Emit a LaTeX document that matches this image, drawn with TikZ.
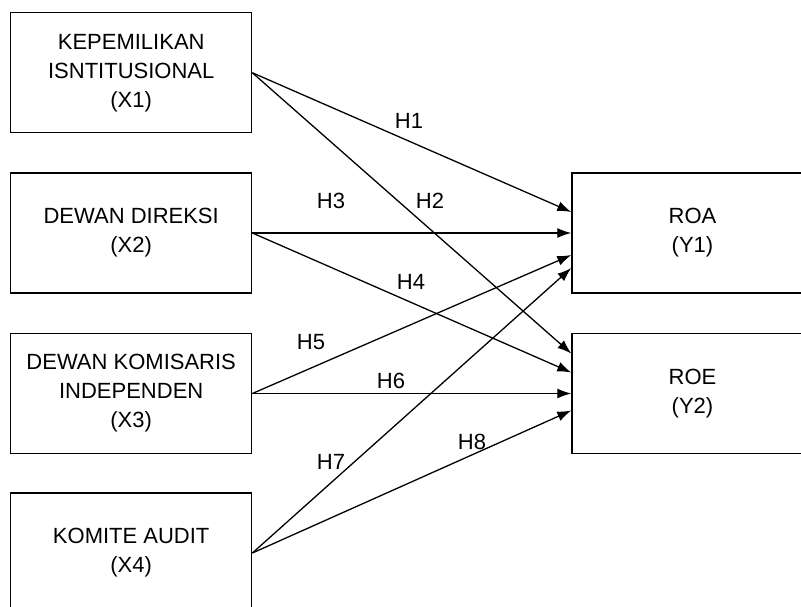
\documentclass[tikz,border=0pt]{standalone}
\usepackage{fontspec}
\setmainfont{Liberation Sans}
\usetikzlibrary{arrows.meta,calc}
\begin{document}
\begin{tikzpicture}[x=1pt,y=-1pt,
  box/.style={draw=black,line width=1.4pt,minimum width=241pt,minimum height=120pt,align=center,inner sep=0pt,
    font=\fontsize{22}{29}\selectfont},
  conn/.style={line width=1.3pt,-{Latex[length=14pt,width=10pt]}},
  lbl/.style={font=\fontsize{22}{26}\selectfont,inner sep=0pt}]
\clip (0,0) rectangle (801,607);
\fill[white] (0,0) rectangle (801,607);
\node[box] (X1) at (131.2,72.8) {KEPEMILIKAN\\ISNTITUSIONAL\\(X1)};
\node[box] (X2) at (131.2,233) {DEWAN DIREKSI\\(X2)};
\node[box] (X3) at (131.2,393.5) {DEWAN KOMISARIS\\INDEPENDEN\\(X3)};
\node[box] (X4) at (131.2,553) {KOMITE AUDIT\\(X4)};
\node[box] (Y1) at (692.5,233) {ROA\\(Y1)};
\node[box] (Y2) at (692.5,393.5) {ROE\\(Y2)};
\draw[conn] (X1.east) -- ($(Y1.west)+(0,-21)$);
\draw[conn] (X1.east) -- ($(Y2.west)+(0,-40)$);
\draw[conn] (X2.east) -- (Y1.west);
\draw[conn] (X2.east) -- ($(Y2.west)+(0,-21)$);
\draw[conn] (X3.east) -- ($(Y1.west)+(0,22)$);
\draw[conn] (X3.east) -- (Y2.west);
\draw[conn] (X4.east) -- ($(Y1.west)+(0,35)$);
\draw[conn] (X4.east) -- ($(Y2.west)+(0,17)$);
\node[lbl] (H1) at (409,121) {H1};
\node[lbl] (H2) at (430,201) {H2};
\node[lbl] (H3) at (331,201) {H3};
\node[lbl] (H4) at (411,282) {H4};
\node[lbl] (H5) at (311,342) {H5};
\node[lbl] (H6) at (391,381) {H6};
\node[lbl] (H7) at (331,462) {H7};
\node[lbl] (H8) at (472,442) {H8};
\end{tikzpicture}
\end{document}
